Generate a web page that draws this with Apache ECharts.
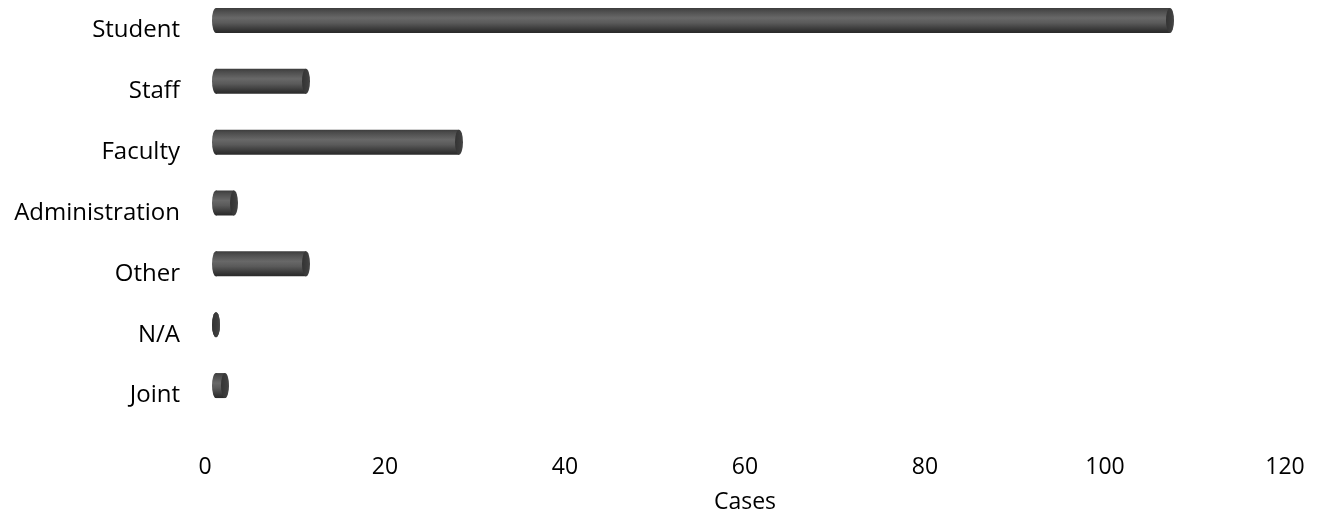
<!DOCTYPE html>
<html>
<head>
<meta charset="utf-8">
<script src="https://cdn.jsdelivr.net/npm/echarts@6/dist/echarts.min.js"></script>
<style>
html,body{margin:0;padding:0;background:#fff;}
#chart{width:1320px;height:519px;}
</style>
</head>
<body>
<div id="chart"></div>
<script>
var categories = ["Student", "Staff", "Faculty", "Administration", "Other", "N/A", "Joint"];
var cases = [106, 10, 27, 2, 10, 0, 1];
var xTicks = [0, 20, 40, 60, 80, 100, 120];
var axisName = "Cases";

var chart = echarts.init(document.getElementById('chart'));
var FONT = '"Open Sans", sans-serif';
var DX = 11, DY = -10, H = 25, RX = 4;

function bodyGrad() {
  return new echarts.graphic.LinearGradient(0, 0, 0, 1, [
    {offset: 0, color: '#3c3c3c'},
    {offset: 0.12, color: '#4c4c4c'},
    {offset: 0.4, color: '#686868'},
    {offset: 0.6, color: '#5a5a5a'},
    {offset: 0.9, color: '#333333'},
    {offset: 1, color: '#2a2a2a'}
  ]);
}

chart.setOption({
  animation: false,
  backgroundColor: '#ffffff',
  grid: {left: 205, right: 35, top: 0, bottom: 93, containLabel: false, outerBoundsMode: 'none'},
  xAxis: {
    type: 'value', min: 0, max: 120, interval: 20,
    name: axisName, nameLocation: 'middle', nameGap: 65,
    nameTextStyle: {fontFamily: FONT, fontSize: 23, color: '#000'},
    axisLine: {show: false}, axisTick: {show: false}, splitLine: {show: false},
    axisLabel: {fontFamily: FONT, fontSize: 23, color: '#000', margin: 30,
      formatter: function (v) { return xTicks.indexOf(v) >= 0 ? String(v) : ''; }}
  },
  yAxis: {
    type: 'category', data: categories, inverse: true,
    axisLine: {show: false}, axisTick: {show: false}, splitLine: {show: false},
    axisLabel: {fontFamily: FONT, fontSize: 24, color: '#000', margin: 25}
  },
  series: [{
    type: 'custom',
    data: cases.map(function (v, i) { return [v, i]; }),
    encode: {x: 0, y: 1},
    renderItem: function (params, api) {
      var v = api.value(0), i = api.value(1);
      var p0 = api.coord([0, i]);
      var p1 = api.coord([v, i]);
      var x0 = p0[0] + DX, x1 = p1[0] + DX, cy = p0[1] + DY;
      var sc = RX / (H / 2);
      var children = [];
      children.push({type: 'circle', shape: {cx: 0, cy: 0, r: H / 2}, x: x0, y: cy, scaleX: sc, scaleY: 1,
        style: {fill: bodyGrad()}});
      if (x1 > x0) {
        children.push({type: 'rect', shape: {x: x0, y: cy - H / 2, width: x1 - x0, height: H},
          style: {fill: bodyGrad()}});
      }
      children.push({type: 'circle', shape: {cx: 0, cy: 0, r: H / 2}, x: x1, y: cy, scaleX: sc, scaleY: 1,
        style: {fill: new echarts.graphic.LinearGradient(0, 0, 1, 0, [
          {offset: 0, color: '#333333'}, {offset: 0.7, color: '#3e3e3e'}, {offset: 1, color: '#4a4a4a'}
        ])}});
      return {type: 'group', children: children};
    }
  }]
});
</script>
</body>
</html>
